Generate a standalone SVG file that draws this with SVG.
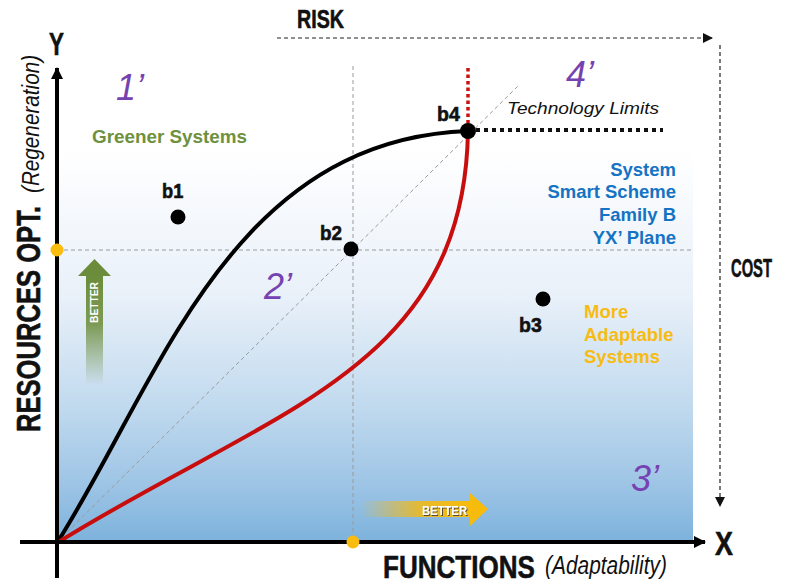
<svg xmlns="http://www.w3.org/2000/svg" width="786" height="586" viewBox="0 0 786 586">
<defs>
  <linearGradient id="bg" x1="0" y1="0" x2="0" y2="1">
    <stop offset="0" stop-color="#ffffff"/>
    <stop offset="0.38" stop-color="#e8f0f9"/>
    <stop offset="0.64" stop-color="#c3dbef"/>
    <stop offset="0.84" stop-color="#a0c6e6"/>
    <stop offset="1" stop-color="#7db2dc"/>
  </linearGradient>
  <linearGradient id="gArrow" x1="0" y1="1" x2="0" y2="0">
    <stop offset="0" stop-color="#6b8c3a" stop-opacity="0"/>
    <stop offset="0.55" stop-color="#6b8c3a" stop-opacity="0.85"/>
    <stop offset="1" stop-color="#6b8c3a"/>
  </linearGradient>
  <linearGradient id="oArrow" x1="0" y1="0" x2="1" y2="0">
    <stop offset="0" stop-color="#f5b90f" stop-opacity="0"/>
    <stop offset="0.55" stop-color="#f5b90f" stop-opacity="0.85"/>
    <stop offset="1" stop-color="#f7bb0c"/>
  </linearGradient>
  <marker id="ah" viewBox="0 0 10 10" refX="9" refY="5" markerWidth="10" markerHeight="10" markerUnits="userSpaceOnUse" orient="auto">
    <path d="M0,0 L10,5 L0,10 Z" fill="#111"/>
  </marker>
  <marker id="axh" viewBox="0 0 12 12" refX="11" refY="6" markerWidth="13" markerHeight="12" markerUnits="userSpaceOnUse" orient="auto">
    <path d="M0,0 L12,6 L0,12 Z" fill="#000"/>
  </marker>
  <filter id="sh" x="-10%" y="-30%" width="130%" height="160%">
    <feDropShadow dx="1" dy="1" stdDeviation="0.6" flood-color="#333" flood-opacity="0.8"/>
  </filter>
</defs>
<style>
  .bc { font-family: "Liberation Sans", Arial, sans-serif; font-weight: bold; fill: #111; stroke: #111; stroke-width: 0.6; }
  .it { font-family: "Liberation Sans", Arial, sans-serif; font-style: italic; fill: #111; }
  .num { font-family: "Liberation Sans", Arial, sans-serif; font-style: italic; fill: #7641b0; font-size: 36px; }
  .lbl { font-family: "Liberation Sans", Arial, sans-serif; font-weight: bold; font-size: 18.5px; }
  .guide { stroke: #9a9a9a; stroke-width: 1; stroke-dasharray: 4 3; fill: none; }
  .dash { stroke: #222; stroke-width: 1.2; stroke-dasharray: 4 3; fill: none; }
  .dot { fill: #000; }
  .odot { fill: #f9bc0f; }
</style>

<rect x="57" y="150" width="636" height="392" fill="url(#bg)"/>

<g id="connectors">
  <line class="guide" x1="353" y1="66" x2="353" y2="542"/>
  <line class="guide" x1="57" y1="250" x2="693" y2="250"/>
  <line class="guide" x1="57" y1="542" x2="519" y2="85"/>
  <line class="dash" x1="277" y1="38" x2="712" y2="38" marker-end="url(#ah)"/>
  <line class="dash" x1="720" y1="45" x2="720" y2="506" marker-end="url(#ah)"/>
  <line x1="468" y1="68" x2="468" y2="124" stroke="#cc1111" stroke-width="3.5" stroke-dasharray="3.5 3"/>
  <line x1="476" y1="130" x2="663" y2="130" stroke="#111" stroke-width="4" stroke-dasharray="4 4"/>
  <path d="M57,543 C160,380 230,140 468,131" fill="none" stroke="#000" stroke-width="4"/>
  <path d="M57,543 C270,410 464,370 468,131" fill="none" stroke="#c80d0d" stroke-width="4"/>
  <line x1="57" y1="578" x2="57" y2="68" stroke="#000" stroke-width="4" marker-end="url(#axh)"/>
  <line x1="20" y1="542" x2="705" y2="542" stroke="#000" stroke-width="4" marker-end="url(#axh)"/>
</g>

<g id="better-up">
  <rect x="86" y="275" width="17" height="110" fill="url(#gArrow)"/>
  <path d="M78,276 L94.5,259 L111,276 Z" fill="#6b8c3a"/>
  <text x="0" y="0" transform="translate(98,323) rotate(-90)" font-family="Liberation Sans, Arial, sans-serif" font-weight="bold" font-size="11" fill="#fff" textLength="41" lengthAdjust="spacingAndGlyphs">BETTER</text>
</g>
<g id="better-right">
  <rect x="360" y="501" width="111" height="16" fill="url(#oArrow)"/>
  <path d="M470,493 L488,509 L470,526 Z" fill="#f7bb0c"/>
  <text x="422" y="515" font-family="Liberation Sans, Arial, sans-serif" font-weight="bold" font-size="13" fill="#fff" filter="url(#sh)" textLength="45" lengthAdjust="spacingAndGlyphs">BETTER</text>
</g>

<g id="origin-dots">
  <circle class="odot" cx="57" cy="250" r="6.5"/>
  <circle class="odot" cx="353" cy="542" r="6.5"/>
</g>

<g id="b1"><circle class="dot" cx="178" cy="217" r="7.5"/><text class="bc" transform="translate(162,198) scale(0.87,1)" font-size="21">b1</text></g>
<g id="b2"><circle class="dot" cx="351" cy="249" r="7.5"/><text class="bc" transform="translate(320,240) scale(0.9,1)" font-size="21">b2</text></g>
<g id="b3"><circle class="dot" cx="543" cy="299" r="7.5"/><text class="bc" transform="translate(519,332) scale(0.93,1)" font-size="21">b3</text></g>
<g id="b4"><circle class="dot" cx="468" cy="131" r="8"/><text class="bc" transform="translate(437,121) scale(0.93,1)" font-size="21">b4</text></g>

<g id="quadrants">
  <text class="num" x="116" y="100">1’</text>
  <text class="num" x="264" y="299">2’</text>
  <text class="num" x="631" y="491">3’</text>
  <text class="num" x="566" y="87">4’</text>
</g>

<g id="labels">
  <text class="it" x="507" y="114" font-size="16.5" textLength="152" lengthAdjust="spacingAndGlyphs">Technology Limits</text>
  <text class="lbl" x="92" y="143" fill="#6e9140" textLength="155" lengthAdjust="spacingAndGlyphs">Greener Systems</text>
  <g fill="#1573c3" text-anchor="end">
    <text class="lbl" x="676" y="176">System</text>
    <text class="lbl" x="676" y="198">Smart Scheme</text>
    <text class="lbl" x="676" y="221">Family B</text>
    <text class="lbl" x="676" y="244">YX’ Plane</text>
  </g>
  <g fill="#f8bb14">
    <text class="lbl" x="584" y="318">More</text>
    <text class="lbl" x="584" y="341">Adaptable</text>
    <text class="lbl" x="584" y="363">Systems</text>
  </g>
</g>

<g id="axis-labels">
  <text class="bc" transform="translate(297,28) scale(0.787,1)" font-size="25">RISK</text>
  <text class="bc" transform="translate(731,277) scale(0.59,1)" font-size="25">COST</text>
  <text class="bc" transform="translate(49,55) scale(0.7,1)" font-size="32">Y</text>
  <text class="bc" transform="translate(715,555) scale(0.79,1)" font-size="34">X</text>
  <text class="bc" transform="translate(383,578) scale(0.814,1)" font-size="32">FUNCTIONS</text>
  <text class="it" transform="translate(545,574) scale(0.836,1)" font-size="25">(Adaptability)</text>
  <text class="bc" transform="translate(40,432) rotate(-90) scale(0.753,1)" font-size="34">RESOURCES OPT.</text>
  <text class="it" transform="translate(39,193) rotate(-90) scale(0.9,1)" font-size="23">(Regeneration)</text>
</g>
</svg>
